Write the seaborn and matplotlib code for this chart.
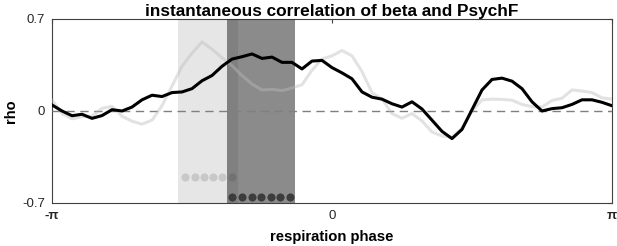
import numpy as np
import pandas as pd
import matplotlib
matplotlib.use('Agg')
import matplotlib.pyplot as plt
import seaborn as sns

sns.set_style('white')
plt.rcParams['font.family'] = ['Liberation Sans', 'DejaVu Sans']

# correlation per respiration phase bin
rho_beta = [0.046, 0.0, -0.036, -0.025, -0.056, -0.035, 0.01, 0.0, 0.03, 0.085,
            0.12, 0.11, 0.14, 0.145, 0.17, 0.23, 0.27, 0.34, 0.395, 0.413,
            0.434, 0.40, 0.41, 0.37, 0.37, 0.32, 0.38, 0.385, 0.33, 0.29,
            0.245, 0.145, 0.105, 0.09, 0.055, 0.03, 0.07, 0.015, -0.07, -0.155,
            -0.21, -0.14, 0.01, 0.16, 0.24, 0.25, 0.227, 0.17, 0.07, 0.0,
            0.018, 0.025, 0.05, 0.085, 0.085, 0.066, 0.04]
rho_other = [0.084, -0.02, -0.06, -0.043, -0.04, 0.02, 0.035, -0.04, -0.078, -0.10,
             -0.07, 0.04, 0.19, 0.34, 0.44, 0.525, 0.47, 0.405, 0.345, 0.27,
             0.205, 0.16, 0.165, 0.155, 0.175, 0.2, 0.31, 0.395, 0.42, 0.46,
             0.42, 0.30, 0.14, 0.09, -0.02, -0.055, -0.02, -0.075, -0.16, -0.19,
             -0.2, -0.13, 0.0, 0.084, 0.09, 0.088, 0.082, 0.05, 0.033, 0.03,
             0.08, 0.097, 0.16, 0.152, 0.14, 0.10, 0.09]
phase = np.linspace(-np.pi, np.pi, len(rho_beta))

# significant clusters (phase ranges) and significant bins
light_span = (-1.728, -1.055)
dark_span = (-1.178, -0.415)
light_sig = [-1.65, -1.54, -1.44, -1.33, -1.23, -1.12]
dark_sig = [-1.12, -1.01, -0.90, -0.80, -0.69, -0.58, -0.47]

df = pd.DataFrame({'phase': phase, 'beta': rho_beta, 'other': rho_other})

fig = plt.figure(figsize=(6.17, 2.46), dpi=100)
ax = fig.add_axes([0.0843, 0.1748, 0.9076, 0.748])

ax.axvspan(*light_span, color='#e6e6e6', lw=0, zorder=1)
sns.scatterplot(x=light_sig, y=[-0.5] * len(light_sig), ax=ax, color='#c8c8c8',
                s=34, linewidth=0, zorder=2)
ax.axvspan(*dark_span, color='#2a2a2a', alpha=0.54, lw=0, zorder=3)
sns.scatterplot(x=dark_sig, y=[-0.652] * len(dark_sig), ax=ax, color='#3c3c3c',
                s=34, linewidth=0, zorder=4)

ax.axhline(0, color='#7f7f7f', lw=1, dashes=(6, 4), zorder=4)
sns.lineplot(data=df, x='phase', y='other', ax=ax, color='#bcbcbc', alpha=0.42,
             lw=2.2, zorder=5)
sns.lineplot(data=df, x='phase', y='beta', ax=ax, color='black', lw=2.2, zorder=6)

ax.set_xlim(-np.pi, np.pi)
ax.set_ylim(-0.7, 0.7)
ax.set_xticks([-np.pi, 0, np.pi])
ax.set_xticklabels(['-π', '0', 'π'])
for lbl in ax.get_xticklabels():
    if lbl.get_text() != '0':
        lbl.set_fontweight('bold')
ax.set_yticks([-0.7, 0, 0.7])
ax.set_yticklabels(['-0.7', '0', '0.7'])
ax.tick_params(direction='in', length=3, width=0.8, color='#404040',
               labelsize=9.5, labelcolor='#262626', top=True, right=True, pad=5)
for sp in ax.spines.values():
    sp.set_color('#404040')
    sp.set_linewidth(0.8)

ax.set_xlabel('respiration phase', fontsize=10.7, fontweight='bold',
              labelpad=6, color='black')
ax.set_ylabel('rho', fontsize=10.5, fontweight='bold', labelpad=3, color='black')
ax.set_title('instantaneous correlation of beta and PsychF', fontsize=12.4,
             fontweight='bold', pad=2, color='black')

fig.savefig('out.png', dpi=100)
